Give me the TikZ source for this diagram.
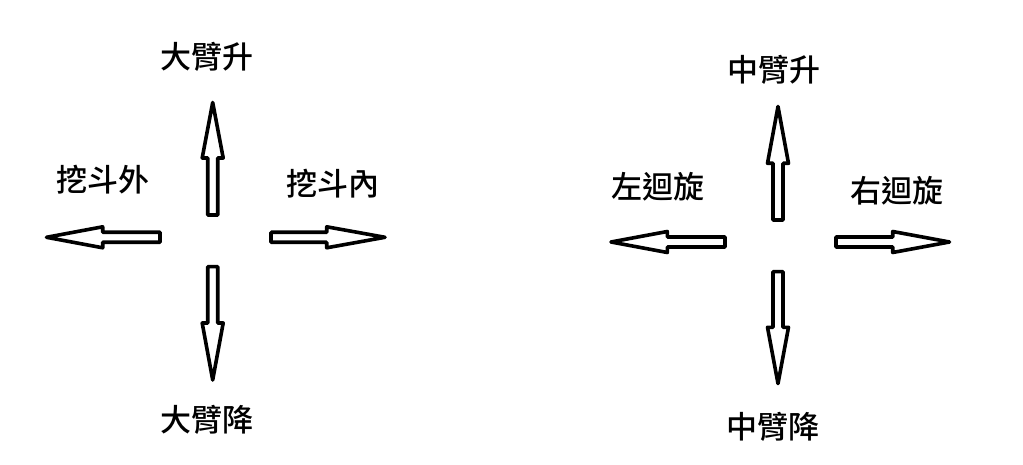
\documentclass[tikz,border=0pt]{standalone}
\usepackage{fontspec}
\newfontfamily\cjk[UprightFont={* Medium}]{Noto Sans CJK TC}
\newcommand\myarrow[5]{%
  \draw[arr,shift={(#1,#2)},rotate=#3] (0,-5) -- (#4,-5) -- (#4,-10.5) -- (#5,0) -- (#4,10.5) -- (#4,5) -- (0,5) -- cycle;}
\tikzset{
  arr/.style={draw=black,line width=3.6pt,line join=round,fill=white},
  lbl/.style={font=\cjk\fontsize{31}{34}\selectfont,inner sep=0pt,text=black}
}
\begin{document}
\begin{tikzpicture}[x=1pt,y=-1pt]
\useasboundingbox[fill=white] (0,0) rectangle (1023,465);
% left cluster
\myarrow{212.7}{215}{90}{57}{112.5}
\myarrow{160}{237.3}{180}{57.3}{113.5}
\myarrow{271}{237.3}{0}{55.7}{114}
\myarrow{212.7}{266.6}{270}{56.4}{113.4}
\node[lbl] (l1) at (206.7,56.7) {大臂升};
\node[lbl] (l2) at (103.3,180) {挖斗外};
\node[lbl] (l3) at (333,183.3) {挖斗內};
\node[lbl] (l4) at (206.7,420) {大臂降};
% right cluster
\myarrow{778}{220}{90}{56.7}{113.5}
\myarrow{725}{242}{180}{57.7}{114}
\myarrow{836}{242}{0}{56.7}{113.5}
\myarrow{778}{271.6}{270}{55.7}{112}
\node[lbl] (r1) at (774.3,70) {中臂升};
\node[lbl] (r2) at (658.3,186.7) {左迴旋};
\node[lbl] (r3) at (896.7,190.7) {右迴旋};
\node[lbl] (r4) at (772.7,426.7) {中臂降};
\end{tikzpicture}
\end{document}
